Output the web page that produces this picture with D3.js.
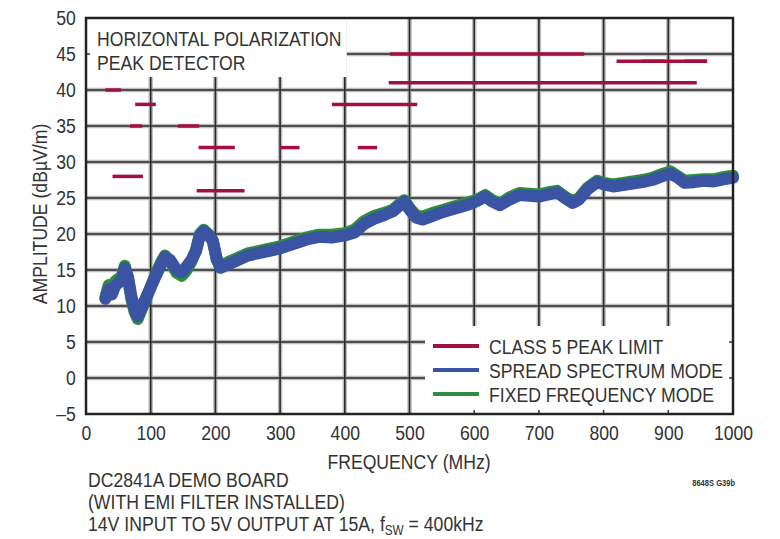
<!DOCTYPE html>
<html>
<head>
<meta charset="utf-8">
<script src="https://cdn.jsdelivr.net/npm/d3@7"></script>
<style>
  html, body { margin: 0; padding: 0; background: #fff; }
  svg { display: block; }
  text { font-family: "Liberation Sans", Arial, sans-serif; fill: #333; }
</style>
</head>
<body>
<script>
// ---------- DATA ----------
const xTickValues = [0, 100, 200, 300, 400, 500, 600, 700, 800, 900, 1000];
const yTickValues = [-5, 0, 5, 10, 15, 20, 25, 30, 35, 40, 45, 50];
const yTickLabels = ["–5", "0", "5", "10", "15", "20", "25", "30", "35", "40", "45", "50"];

// Class 5 peak limit segments (MHz start, MHz end, dBµV/m)
const limitStart = [30, 41, 68, 76, 142, 171, 174, 300, 380, 420, 468, 470, 820, 860, 925];
const limitEnd   = [54, 88, 87, 108, 175, 245, 230, 330, 512, 450, 944, 770, 960, 895, 960];
const limitLevel = [40, 28, 35, 38, 35, 26, 32, 32, 38, 32, 41, 45, 44, 44, 44];

// Spread spectrum mode (blue)
const ssFreq = [30, 35, 40, 45, 50, 55, 60, 65, 70, 75, 80, 85, 95, 105, 115, 122, 130, 140, 148, 155,
  163, 170, 176, 182, 190, 196, 202, 208, 220, 235, 250, 265, 280, 300, 320, 340, 360, 380, 400, 415,
  430, 445, 460, 475, 485, 492, 500, 510, 520, 535, 550, 565, 580, 595, 605, 617, 628, 640, 655, 670,
  685, 700, 715, 728, 740, 752, 762, 775, 790, 800, 815, 830, 845, 860, 875, 890, 903, 915, 925, 940,
  955, 970, 985, 1000];
const ssAmp = [11.0, 12.3, 11.6, 12.8, 13.2, 13.6, 15.2, 14.0, 11.4, 9.6, 8.6, 9.6, 11.6, 13.6, 15.6, 16.8, 16.4, 15.0, 14.7, 15.4,
  16.4, 17.6, 19.8, 20.4, 19.8, 19.0, 16.6, 15.3, 15.8, 16.4, 17.0, 17.3, 17.6, 18.0, 18.6, 19.2, 19.6, 19.5, 19.8, 20.2,
  21.4, 22.1, 22.6, 23.2, 24.0, 24.5, 23.4, 22.3, 22.0, 22.5, 23.0, 23.4, 23.8, 24.2, 24.6, 25.2, 24.5, 24.0, 24.8, 25.4,
  25.3, 25.2, 25.5, 25.8, 25.0, 24.3, 24.8, 26.2, 27.2, 26.9, 26.6, 26.8, 27.0, 27.2, 27.5, 28.0, 28.4, 27.8, 27.1, 27.2,
  27.4, 27.3, 27.6, 27.8];

// Fixed frequency mode (green)
const ffFreq = [30, 35, 40, 45, 50, 55, 60, 65, 70, 75, 80, 85, 95, 105, 115, 122, 130, 140, 148, 155,
  163, 170, 176, 182, 190, 196, 202, 208, 220, 235, 250, 265, 280, 300, 320, 340, 360, 380, 400, 415,
  430, 445, 460, 475, 485, 492, 500, 510, 520, 535, 550, 565, 580, 595, 605, 617, 628, 640, 655, 670,
  685, 700, 715, 728, 740, 752, 762, 775, 790, 800, 815, 830, 845, 860, 875, 890, 903, 915, 925, 940,
  955, 970, 985, 1000];
const ffAmp = [11.2, 12.9, 12.2, 13.4, 13.8, 14.0, 15.6, 13.8, 11.0, 9.2, 8.2, 9.3, 11.5, 13.8, 15.9, 17.0, 16.2, 14.6, 14.2, 14.9,
  16.2, 17.8, 20.0, 20.6, 19.9, 19.1, 16.4, 15.4, 16.1, 16.7, 17.3, 17.6, 17.9, 18.3, 18.9, 19.5, 19.9, 19.9, 20.1, 20.6,
  21.8, 22.5, 22.9, 23.4, 24.2, 24.7, 23.6, 22.6, 22.4, 22.9, 23.3, 23.7, 24.1, 24.5, 24.8, 25.4, 24.7, 24.2, 25.1, 25.7,
  25.6, 25.5, 25.8, 26.0, 25.2, 24.5, 25.0, 26.4, 27.4, 27.1, 26.9, 27.1, 27.3, 27.5, 27.8, 28.3, 28.7, 28.0, 27.4, 27.5,
  27.6, 27.6, 27.9, 28.1];

const legendLabels = ["CLASS 5 PEAK LIMIT", "SPREAD SPECTRUM MODE", "FIXED FREQUENCY MODE"];
const titleLines = ["HORIZONTAL POLARIZATION", "PEAK DETECTOR"];
const noteLines = ["DC2841A DEMO BOARD", "(WITH EMI FILTER INSTALLED)"];

// ---------- CHART ----------
const W = 780, H = 539;
const SX = 0.84;     // narrow-font horizontal squeeze
const fs = 21;
const colRed = "#a3103c", colBlue = "#3a53a3", colGreen = "#2f8e3e";
const svg = d3.select("body").append("svg").attr("width", W).attr("height", H);

const x = d3.scaleLinear().domain([0, 1000]).range([86, 733]);
const y = d3.scaleLinear().domain([-5, 50]).range([414, 18]);

function ntext(parent, tx, ty, str, anchor, size) {
  return parent.append("text")
    .attr("transform", `translate(${tx},${ty}) scale(${SX},1)`)
    .attr("text-anchor", anchor || "start")
    .attr("font-size", size || fs)
    .text(str);
}

// grid
const grid = svg.append("g");
function gridLines(stroke, width) {
  grid.append("g").selectAll("line").data(xTickValues.slice(1, -1)).join("line")
    .attr("x1", d => x(d)).attr("x2", d => x(d)).attr("y1", y(50)).attr("y2", y(-5))
    .attr("stroke", stroke).attr("stroke-width", width);
  grid.append("g").selectAll("line").data(yTickValues.slice(1, -1)).join("line")
    .attr("x1", x(0)).attr("x2", x(1000)).attr("y1", d => y(d)).attr("y2", d => y(d))
    .attr("stroke", stroke).attr("stroke-width", width);
}
gridLines("#bdbdbd", 4.5);
gridLines("#2a2a2a", 1.6);

// white boxes (title & legend)
svg.append("rect").attr("x", x(0)).attr("y", y(50)).attr("width", x(403) - x(0)).attr("height", 59).attr("fill", "#fff");
svg.append("rect").attr("x", x(524)).attr("y", 326).attr("width", x(1000) - x(524)).attr("height", y(-5) - 326 - 1).attr("fill", "#fff");

// small ticks
const ticks = svg.append("g").attr("stroke", "#333").attr("stroke-width", 1.5);
ticks.append("line").attr("x1", x(0)).attr("x2", x(0) + 4).attr("y1", y(45)).attr("y2", y(45));
ticks.selectAll("line.b").data([600, 700, 800, 900]).join("line").attr("class", "b")
  .attr("x1", d => x(d)).attr("x2", d => x(d)).attr("y1", y(-5)).attr("y2", y(-5) - 4);
ticks.selectAll("line.r").data([0, 5]).join("line").attr("class", "r")
  .attr("x1", x(1000)).attr("x2", x(1000) - 4).attr("y1", d => y(d)).attr("y2", d => y(d));

// limits
svg.append("g").selectAll("line").data(limitLevel).join("line")
  .attr("x1", (d, i) => x(limitStart[i])).attr("x2", (d, i) => x(limitEnd[i]))
  .attr("y1", d => y(d)).attr("y2", d => y(d))
  .attr("stroke", colRed).attr("stroke-width", 3.5);

// traces
const lineGen = d3.line().x(d => x(d[0])).y(d => y(d[1]));
svg.append("path").datum(ffFreq.map((f, i) => [f, ffAmp[i]])).attr("d", lineGen)
  .attr("fill", "none").attr("stroke", colGreen).attr("stroke-width", 12).attr("stroke-linejoin", "round").attr("stroke-linecap", "round");
svg.append("path").datum(ssFreq.map((f, i) => [f, ssAmp[i]])).attr("d", lineGen)
  .attr("fill", "none").attr("stroke", colBlue).attr("stroke-width", 12).attr("stroke-linejoin", "round").attr("stroke-linecap", "round");

// frame
svg.append("rect").attr("x", x(0)).attr("y", y(50)).attr("width", x(1000) - x(0)).attr("height", y(-5) - y(50))
  .attr("fill", "none").attr("stroke", "#222").attr("stroke-width", 2.5);

// axes tick labels
const xAxis = d3.axisBottom(x).tickValues(xTickValues).tickSize(0).tickPadding(11).tickFormat(d3.format("d"));
const gx = svg.append("g").attr("transform", `translate(0,${y(-5)})`).call(xAxis);
gx.select(".domain").remove();
gx.selectAll("text").attr("font-size", fs).attr("font-family", null).attr("fill", "#333")
  .attr("transform", `scale(${SX},1)`);

const yAxis = d3.axisLeft(y).tickValues(yTickValues).tickSize(0).tickPadding(12)
  .tickFormat((d, i) => yTickLabels[i]);
const gy = svg.append("g").attr("transform", `translate(${x(0)},0)`).call(yAxis);
gy.select(".domain").remove();
gy.selectAll("text").attr("font-size", fs).attr("font-family", null).attr("fill", "#333")
  .attr("transform", `scale(${SX},1)`);

// axis titles
ntext(svg, 409, 469, "FREQUENCY (MHz)", "middle");
svg.append("text").attr("transform", `translate(47,214) rotate(-90) scale(${SX},1)`)
  .attr("text-anchor", "middle").attr("font-size", fs).text("AMPLITUDE (dBµV/m)");

// title
titleLines.forEach((t, i) => ntext(svg, 97, 46 + i * 24, t).attr("fill", "#444"));

// legend
const lg = svg.append("g");
const legendColors = [colRed, colBlue, colGreen];
legendLabels.forEach((t, i) => {
  const ly = 346 + i * 24;
  lg.append("line").attr("x1", 433).attr("x2", 479).attr("y1", ly).attr("y2", ly)
    .attr("stroke", legendColors[i]).attr("stroke-width", 4);
  ntext(lg, 489, ly + 7.5, t);
});

// notes
noteLines.forEach((t, i) => ntext(svg, 88, 487 + i * 22, t));
const last = ntext(svg, 88, 531, "");
last.append("tspan").text("14V INPUT TO 5V OUTPUT AT 15A, f");
last.append("tspan").attr("font-size", 14).attr("dy", 4).text("SW");
last.append("tspan").attr("dy", -4).text(" = 400kHz");

ntext(svg, 735, 486, "8648S G39b", "end", 9).attr("font-weight", "bold").attr("fill", "#777");
</script>
</body>
</html>
